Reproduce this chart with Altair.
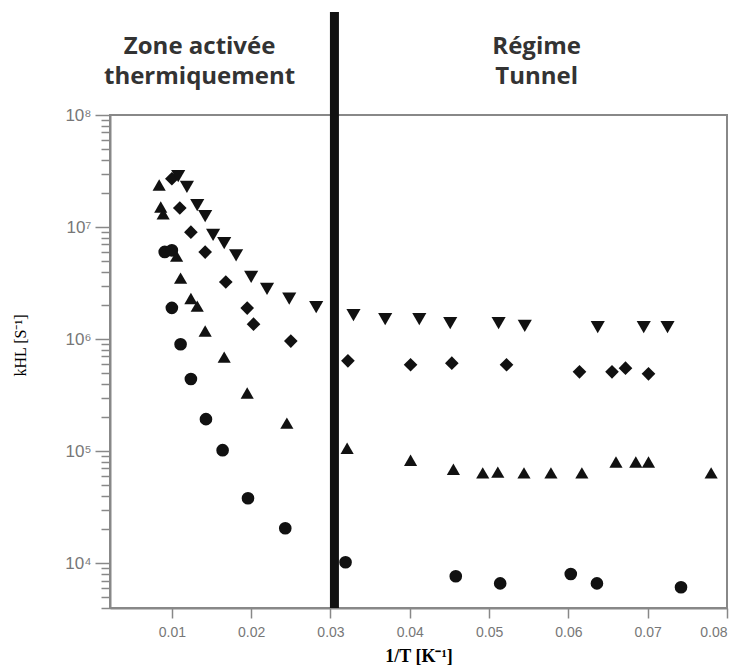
import altair as alt
import pandas as pd

# ---- data ----
circle_x = [0.0091, 0.0100, 0.0100, 0.0111, 0.0124, 0.0143, 0.0164, 0.0196, 0.0243,
            0.0319, 0.0458, 0.0514, 0.0603, 0.0636, 0.0742]
circle_y = [6.0e6, 6.2e6, 1.9e6, 9.0e5, 4.4e5, 1.93e5, 1.02e5, 3.8e4, 2.05e4,
            1.02e4, 7.65e3, 6.6e3, 8.0e3, 6.6e3, 6.1e3]

tri_up_x = [0.0084, 0.0086, 0.0089, 0.0106, 0.0111, 0.0124, 0.0132, 0.0142, 0.0166,
            0.0195, 0.0245, 0.0321, 0.0401, 0.0455, 0.0492, 0.0511, 0.0544, 0.0578,
            0.0617, 0.0660, 0.0685, 0.0701, 0.0780]
tri_up_y = [2.37e7, 1.51e7, 1.31e7, 5.5e6, 3.5e6, 2.3e6, 1.97e6, 1.18e6, 6.9e5,
            3.3e5, 1.78e5, 1.06e5, 8.3e4, 6.9e4, 6.4e4, 6.5e4, 6.4e4, 6.4e4,
            6.4e4, 8.0e4, 8.0e4, 8.0e4, 6.4e4]

diamond_x = [0.0100, 0.0110, 0.0124, 0.0142, 0.0168, 0.0195, 0.0203, 0.0250, 0.0322,
             0.0401, 0.0453, 0.0522, 0.0614, 0.0655, 0.0672, 0.0701]
diamond_y = [2.7e7, 1.48e7, 9.0e6, 5.98e6, 3.23e6, 1.89e6, 1.36e6, 9.6e5, 6.4e5,
             5.9e5, 6.1e5, 5.9e5, 5.1e5, 5.1e5, 5.5e5, 4.9e5]

tri_down_x = [0.0108, 0.0119, 0.0132, 0.0142, 0.0152, 0.0166, 0.0181, 0.0200, 0.0220,
              0.0248, 0.0282, 0.0329, 0.0369, 0.0412, 0.0451, 0.0512, 0.0545, 0.0637,
              0.0695, 0.0725]
tri_down_y = [2.85e7, 2.28e7, 1.57e7, 1.25e7, 8.5e6, 7.2e6, 5.6e6, 3.6e6, 2.8e6,
              2.3e6, 1.93e6, 1.64e6, 1.51e6, 1.51e6, 1.39e6, 1.39e6, 1.31e6, 1.28e6,
              1.28e6, 1.28e6]

x_ticks = [0.01, 0.02, 0.03, 0.04, 0.05, 0.06, 0.07, 0.08]
y_ticks = [m * 10 ** k for k in range(3, 8) for m in range(1, 10) if 4e3 <= m * 10 ** k <= 1e8] + [1e8]
x_domain = [0.0022, 0.08]
y_domain = [3981, 1e8]
divider_x = [0.0305]

zone_lines = ["Zone activée", "thermiquement", "Régime", "Tunnel"]
zone_x = [0.0135, 0.0135, 0.0560, 0.0560]
zone_row = [0, 1, 0, 1]

# ---- tables ----
rows = []
for name, xs, ys in [("circle", circle_x, circle_y), ("triangle-up", tri_up_x, tri_up_y),
                     ("diamond", diamond_x, diamond_y), ("triangle-down", tri_down_x, tri_down_y)]:
    for a, b in zip(xs, ys):
        rows.append({"x": a, "y": b, "s": name})
df = pd.DataFrame(rows)

xscale = alt.Scale(domain=x_domain, nice=False, zero=False)
yscale = alt.Scale(type="log", domain=y_domain, nice=False)

is_major = "abs(log(datum.value)/LN10 - round(log(datum.value)/LN10)) < 0.001"
exp = "round(log(datum.value)/LN10)"
label_expr = (f"({is_major}) ? ('10' + ({exp}==4?'⁴':{exp}==5?'⁵':{exp}==6?'⁶':{exp}==7?'⁷':'⁸')) : ''")

points = alt.Chart(df).mark_point(filled=True, opacity=1, color="#111").encode(
    x=alt.X("x:Q", scale=xscale,
            axis=alt.Axis(values=x_ticks, format=".2f", tickSize=10, labelPadding=7,
                          title="1/T [K⁻¹]", titleFont="Liberation Serif",
                          titleFontWeight="bold", titleFontSize=18, titleColor="#000",
                          titlePadding=8, grid=False)),
    y=alt.Y("y:Q", scale=yscale,
            axis=alt.Axis(values=y_ticks, labelExpr=label_expr,
                          tickSize={"condition": {"test": is_major, "value": 15}, "value": 9},
                          labelPadding=4, labelFontSize=17, labelOverlap=False,
                          orient="left", grid=False,
                          title="kHL [S⁻¹]", titleFont="Liberation Serif",
                          titleFontWeight="normal", titleFontSize=16, titleColor="#000",
                          titleX=-82, titleY=230)),
    shape=alt.Shape("s:N", scale=alt.Scale(domain=["circle", "triangle-up", "diamond", "triangle-down"],
                                           range=["circle", "triangle-up", "diamond", "triangle-down"]),
                    legend=None),
    size=alt.Size("s:N", scale=alt.Scale(domain=["circle", "triangle-up", "diamond", "triangle-down"],
                                         range=[160, 200, 150, 200]), legend=None),
)

divider = alt.Chart(pd.DataFrame({"x": divider_x})).mark_rule(color="#111", strokeWidth=9).encode(
    x=alt.X("x:Q", scale=xscale), y=alt.value(-103), y2=alt.value(493)
)

zone_df = pd.DataFrame({"x": zone_x, "t": zone_lines, "r": zone_row})
zone1 = alt.Chart(zone_df).transform_filter("datum.r == 0").mark_text(
    font="Open Sans", fontWeight="bold", fontSize=24, color="#333",
    align="center", baseline="alphabetic"
).encode(x=alt.X("x:Q", scale=xscale), y=alt.value(-61), text="t:N")
zone2 = alt.Chart(zone_df).transform_filter("datum.r == 1").mark_text(
    font="Open Sans", fontWeight="bold", fontSize=24, color="#333",
    align="center", baseline="alphabetic"
).encode(x=alt.X("x:Q", scale=xscale), y=alt.value(-31), text="t:N")

chart = alt.layer(points, divider, zone1, zone2).properties(
    width=617, height=493,
    autosize=alt.AutoSizeParams(type="none"),
    padding={"left": 110, "top": 115, "right": 21, "bottom": 63},
).configure_view(stroke="#888", strokeWidth=2).configure_axis(
    domainColor="#888", domainWidth=2, tickColor="#888", tickWidth=1.5,
    labelColor="#777", labelFont="Liberation Sans", labelFontSize=14,
)

chart.save("out.html", embed_options={"renderer": "svg", "actions": False})
